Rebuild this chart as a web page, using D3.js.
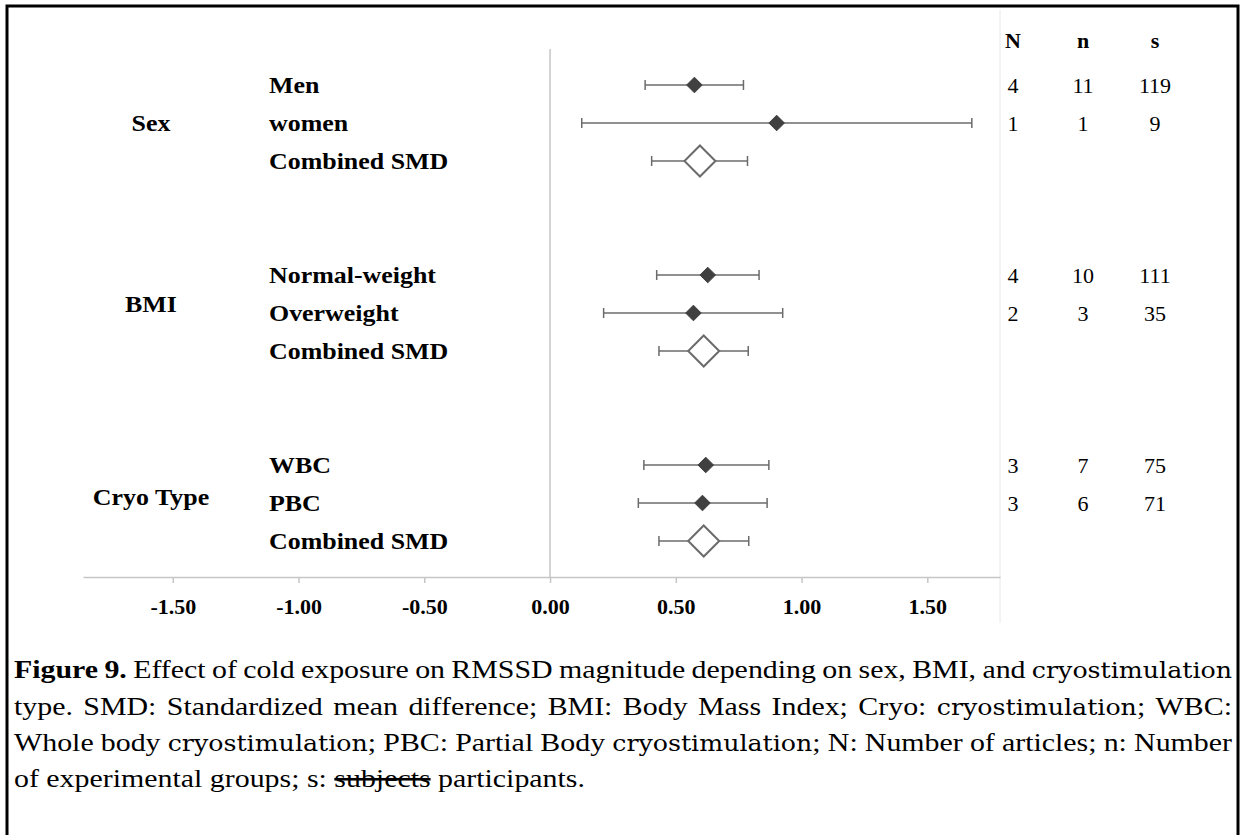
<!DOCTYPE html>
<html>
<head>
<meta charset="utf-8">
<script src="https://cdn.jsdelivr.net/npm/d3@7/dist/d3.min.js"></script>
<style>
  html, body { margin: 0; padding: 0; background: #fff; }
  svg { display: block; }
</style>
</head>
<body>
<svg id="chart" width="1245" height="835"></svg>
<script>
// ---------------- data ----------------
const groups = ["Sex", "BMI", "Cryo Type"];
const groupLabelSlot = [1, 5.75, 10.85];
const rowLabels = ["Men", "women", "Combined SMD",
                   "Normal-weight", "Overweight", "Combined SMD",
                   "WBC", "PBC", "Combined SMD"];
const rowSlot = [0, 1, 2, 5, 6, 7, 10, 11, 12];
const isCombined = [false, false, true, false, false, true, false, false, true];
const smd   = [0.574, 0.901, 0.596, 0.627, 0.570, 0.611, 0.619, 0.606, 0.611];
const lower = [0.378, 0.126, 0.404, 0.424, 0.213, 0.433, 0.373, 0.351, 0.433];
const upper = [0.769, 1.677, 0.785, 0.831, 0.925, 0.788, 0.870, 0.863, 0.790];
const colHeaders = ["N", "n", "s"];
const countN = ["4", "1", "", "4", "2", "", "3", "3", ""];
const countn = ["11", "1", "", "10", "3", "", "7", "6", ""];
const counts = ["119", "9", "", "111", "35", "", "75", "71", ""];
const tickValues = [-1.5, -1.0, -0.5, 0, 0.5, 1.0, 1.5];
const captionLines = [
  [{t: "Figure 9.", b: true}, {t: " Effect of cold exposure on RMSSD magnitude depending on sex, BMI, and "}, {t: "cryostimulation", alt: true}],
  [{t: "type. SMD: Standardized mean difference; BMI: Body Mass Index; Cryo: "}, {t: "cryostimulation", alt: true}, {t: "; WBC:"}],
  [{t: "Whole body "}, {t: "cryostimulation", alt: true}, {t: "; PBC: Partial Body "}, {t: "cryostimulation", alt: true}, {t: "; N: Number of articles; n: Number"}],
  [{t: "of experimental groups; s: "}, {t: "subjects", s: true}, {t: " participants."}]
];

// ---------------- layout ----------------
const svg = d3.select("#chart");
const serif = "'Liberation Serif', 'Times New Roman', serif";

svg.append("rect").attr("x", 7).attr("y", 6).attr("width", 1231).attr("height", 900)
  .attr("fill", "none").attr("stroke", "#000").attr("stroke-width", 3);

const x = d3.scaleLinear().domain([-1.857, 1.789]).range([83, 1000]);
const y = d3.scaleLinear().domain([0, 12]).range([85, 541]);
const axisY = 577;

// faint right divider
svg.append("line").attr("x1", 1000).attr("x2", 1000).attr("y1", 10).attr("y2", 623)
  .attr("stroke", "#e8e8e8").attr("stroke-width", 1);

// zero line
svg.append("line").attr("x1", x(0)).attr("x2", x(0)).attr("y1", 49).attr("y2", axisY)
  .attr("stroke", "#c6c6c6").attr("stroke-width", 1.5);

// axis
const fmt = d3.format(".2f");
const axis = d3.axisBottom(x).tickValues(tickValues).tickFormat(d => fmt(d).replace("\u2212", "-"))
  .tickSize(6).tickSizeOuter(0).tickPadding(10);
const gAxis = svg.append("g").attr("transform", `translate(0,${axisY})`).call(axis);
gAxis.select(".domain").attr("stroke", "#c6c6c6").attr("stroke-width", 1.5);
gAxis.selectAll(".tick line").attr("stroke", "#c6c6c6").attr("stroke-width", 1.5);
gAxis.selectAll(".tick text").attr("font-family", serif).attr("font-weight", "bold")
  .attr("font-size", 22).attr("fill", "#000").attr("dy", "0.95em");

// group labels
svg.selectAll("text.group").data(groups).join("text").attr("class", "group")
  .attr("transform", (d, i) => `translate(151,${y(groupLabelSlot[i])}) scale(1.08,1)`)
  .attr("text-anchor", "middle").attr("dominant-baseline", "central")
  .attr("font-family", serif).attr("font-weight", "bold").attr("font-size", 24)
  .text(d => d);

// row labels
svg.selectAll("text.rowlab").data(rowLabels).join("text").attr("class", "rowlab")
  .attr("transform", (d, i) => `translate(269,${y(rowSlot[i])}) scale(1.08,1)`)
  .attr("dominant-baseline", "central")
  .attr("font-family", serif).attr("font-weight", "bold").attr("font-size", 24)
  .text(d => d);

// error bars
const rows = rowLabels.map((d, i) => ({i, lo: lower[i], hi: upper[i], v: smd[i], yy: y(rowSlot[i]), comb: isCombined[i]}));
const gBars = svg.append("g");
gBars.selectAll("line.ci").data(rows).join("line").attr("class", "ci")
  .attr("x1", d => x(d.lo)).attr("x2", d => x(d.hi)).attr("y1", d => d.yy).attr("y2", d => d.yy)
  .attr("stroke", "#6b6b6b").attr("stroke-width", 1.5);
gBars.selectAll("line.capL").data(rows).join("line").attr("class", "capL")
  .attr("x1", d => x(d.lo)).attr("x2", d => x(d.lo)).attr("y1", d => d.yy - 5).attr("y2", d => d.yy + 5)
  .attr("stroke", "#6b6b6b").attr("stroke-width", 1.5);
gBars.selectAll("line.capR").data(rows).join("line").attr("class", "capR")
  .attr("x1", d => x(d.hi)).attr("x2", d => x(d.hi)).attr("y1", d => d.yy - 5).attr("y2", d => d.yy + 5)
  .attr("stroke", "#6b6b6b").attr("stroke-width", 1.5);

// markers
const diamond = r => `M0,${-r}L${r},0L0,${r}L${-r},0Z`;
gBars.selectAll("path.mk").data(rows).join("path").attr("class", "mk")
  .attr("transform", d => `translate(${x(d.v)},${d.yy})`)
  .attr("d", d => d.comb ? diamond(15.5) : diamond(7.8))
  .attr("fill", d => d.comb ? "#fff" : "#404040")
  .attr("stroke", d => d.comb ? "#6b6b6b" : "#404040")
  .attr("stroke-width", d => d.comb ? 2 : 1);

// count columns
const colX = [1013, 1083, 1155];
svg.selectAll("text.hdr").data(colHeaders).join("text").attr("class", "hdr")
  .attr("x", (d, i) => colX[i]).attr("y", 40).attr("text-anchor", "middle")
  .attr("dominant-baseline", "central")
  .attr("font-family", serif).attr("font-weight", "bold").attr("font-size", 22).text(d => d);
[countN, countn, counts].forEach((col, c) => {
  svg.append("g").selectAll("text").data(col).join("text")
    .attr("x", colX[c]).attr("y", (d, i) => y(rowSlot[i]))
    .attr("text-anchor", "middle").attr("dominant-baseline", "central")
    .attr("font-family", serif).attr("font-size", 22).text(d => d);
});

// caption with justification (horizontally stretched like the source)
const sx = 1.15;
const capLeft = 14 / sx, capRight = 1232 / sx, capBase = [678, 715, 751, 787], capSize = 26;
const gCap = svg.append("g").attr("transform", `scale(${sx},1)`);
function styleWord(sel, w) {
  sel.attr("font-family", w.alt ? "'DejaVu Serif', serif" : serif)
     .attr("font-size", w.alt ? 22 : capSize)
     .attr("font-weight", w.b ? "bold" : "normal");
  if (w.s) sel.attr("text-decoration", "line-through");
}
captionLines.forEach((segs, li) => {
  const words = [];
  segs.forEach(s => {
    const parts = s.t.split(" ");
    parts.forEach((p, k) => {
      if (k > 0) words.push({space: true});
      if (p.length) words.push({t: p, b: s.b, alt: s.alt, s: s.s});
    });
  });
  const groupsW = [];
  let cur = [];
  words.forEach(w => {
    if (w.space) { if (cur.length) groupsW.push(cur); cur = []; }
    else cur.push(w);
  });
  if (cur.length) groupsW.push(cur);
  const g = gCap.append("g");
  const meas = (w) => {
    const t = g.append("text").text(w.t);
    styleWord(t, w);
    const len = t.node().getComputedTextLength();
    t.remove();
    return len;
  };
  const spaceW = meas({t: "a a"}) - meas({t: "aa"});
  const widths = groupsW.map(gr => gr.map(meas));
  const totals = widths.map(ws => d3.sum(ws));
  const justify = li < captionLines.length - 1;
  const gap = justify ? (capRight - capLeft - d3.sum(totals)) / (groupsW.length - 1) : spaceW;
  let cx = capLeft;
  groupsW.forEach((gr, gi) => {
    let px = cx;
    gr.forEach((w, wi) => {
      const t = g.append("text").attr("x", px).attr("y", capBase[li]).text(w.t).attr("fill", "#000");
      styleWord(t, w);
      px += widths[gi][wi];
    });
    cx += totals[gi] + gap;
  });
});
</script>
</body>
</html>
